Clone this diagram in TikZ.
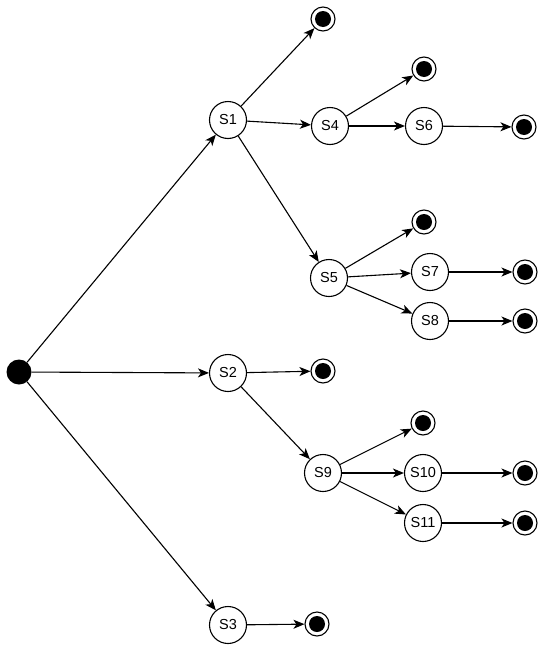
\documentclass[tikz,border=0pt]{standalone}
\usepackage{fontspec}
\setmainfont{Liberation Sans}
\usetikzlibrary{arrows.meta}
\begin{document}
\begin{tikzpicture}[x=1pt,y=-1pt,
  st/.style={circle,draw,line width=1.1pt,minimum size=37pt,inner sep=0pt,font=\fontsize{14.5}{14.5}\selectfont},
  fin/.style={circle,draw,line width=1.1pt,minimum size=24pt,inner sep=0pt,
    path picture={\fill (path picture bounding box.center) circle (8pt);}},
  init/.style={circle,fill=black,minimum size=25pt,inner sep=0pt},
  edge/.style={line width=1.1pt,-{Stealth[length=11pt,width=9pt,inset=3pt]}}]
\useasboundingbox (0,0) rectangle (550,651);
\node[init] (s) at (19,372) {};
\node[st] (S1) at (228,120) {S1};
\node[st] (S2) at (228,373) {S2};
\node[st] (S3) at (228,625) {S3};
\node[st] (S4) at (330,126) {S4};
\node[st] (S6) at (424,126) {S6};
\node[st] (S5) at (329,278) {S5};
\node[st] (S7) at (430,272) {S7};
\node[st] (S8) at (430,321) {S8};
\node[st] (S9) at (323,473) {S9};
\node[st] (S10) at (423,473) {S10};
\node[st] (S11) at (423,523) {S11};
\node[fin] (e1) at (323,19) {};
\node[fin] (e2) at (424,69) {};
\node[fin] (e3) at (524,127) {};
\node[fin] (e4) at (424,222) {};
\node[fin] (e5) at (525,272) {};
\node[fin] (e6) at (525,321) {};
\node[fin] (e7) at (323,371) {};
\node[fin] (e8) at (423,423) {};
\node[fin] (e9) at (525,473) {};
\node[fin] (e10) at (525,523) {};
\node[fin] (e11) at (317,624) {};
\draw[edge] (s) -- (S1);
\draw[edge] (s) -- (S2);
\draw[edge] (s) -- (S3);
\draw[edge] (S1) -- (e1);
\draw[edge] (S1) -- (S4);
\draw[edge] (S1) -- (S5);
\draw[edge] (S4) -- (e2);
\draw[edge] (S4) -- (S6);
\draw[edge] (S6) -- (e3);
\draw[edge] (S5) -- (e4);
\draw[edge] (S5) -- (S7);
\draw[edge] (S5) -- (S8);
\draw[edge] (S7) -- (e5);
\draw[edge] (S8) -- (e6);
\draw[edge] (S2) -- (e7);
\draw[edge] (S2) -- (S9);
\draw[edge] (S9) -- (e8);
\draw[edge] (S9) -- (S10);
\draw[edge] (S9) -- (S11);
\draw[edge] (S10) -- (e9);
\draw[edge] (S11) -- (e10);
\draw[edge] (S3) -- (e11);
\end{tikzpicture}
\end{document}
